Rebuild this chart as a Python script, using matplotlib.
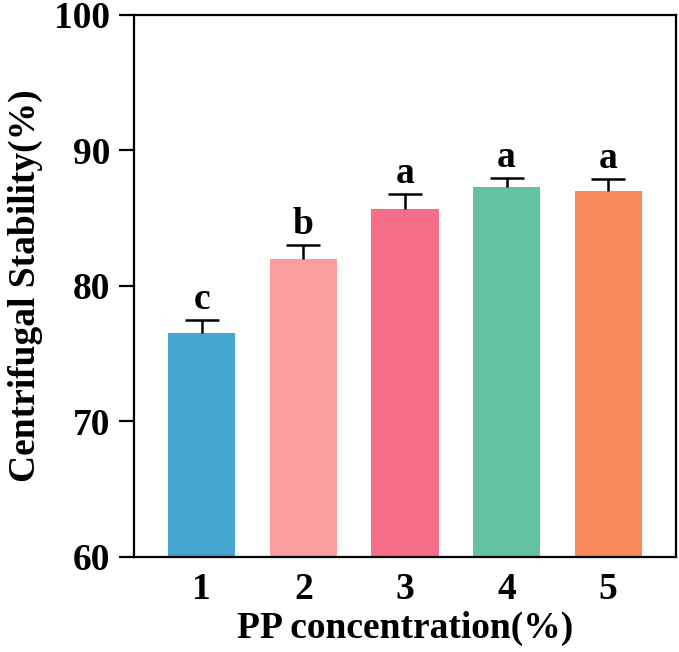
import matplotlib.pyplot as plt
import numpy as np

plt.rcParams['font.family'] = ['Liberation Serif', 'DejaVu Serif']
plt.rcParams['font.weight'] = 'bold'

# data
groups = ['1', '2', '3', '4', '5']
stability = [76.5, 82.0, 85.7, 87.3, 87.0]
sd = [1.0, 1.0, 1.1, 0.7, 0.9]
letters = ['c', 'b', 'a', 'a', 'a']
colors = ['#42A6CF', '#F99D9F', '#F56D87', '#65C1A3', '#F98A5E']

fig = plt.figure(figsize=(6.79, 6.52), dpi=100)
ax = fig.add_axes([0.197, 0.146, 0.799, 0.831])

x = np.arange(1, len(groups) + 1)
ax.bar(x, stability, width=0.66, color=colors, zorder=2)
eb = ax.errorbar(x, stability, yerr=[np.zeros(len(sd)), sd], fmt='none',
                 ecolor='black', elinewidth=1.8, capsize=12, capthick=1.8, zorder=3)
# only the upper cap is shown
eb[1][0].set_visible(False)

for xi, yi, e, lab in zip(x, stability, sd, letters):
    ax.annotate(lab, (xi, yi + e), xytext=(0, 2), textcoords='offset points',
                ha='center', va='bottom', fontsize=27, fontweight='bold')

ax.set_xlim(0.33, 5.67)
ax.set_ylim(60, 100)
ax.set_yticks([60, 70, 80, 90, 100])
ax.set_xticks(x)
ax.set_xticklabels(groups)

for s in ax.spines.values():
    s.set_linewidth(1.6)
ax.tick_params(axis='x', direction='in', length=7, width=1.6, labelsize=27, pad=11)
ax.tick_params(axis='y', direction='out', length=11, width=1.6, labelsize=27, pad=6)

ax.set_xlabel('PP concentration(%)', fontsize=27, fontweight='bold', labelpad=3)
ax.set_ylabel('Centrifugal Stability(%)', fontsize=27, fontweight='bold', labelpad=8)

fig.savefig('out.png', dpi=100)
